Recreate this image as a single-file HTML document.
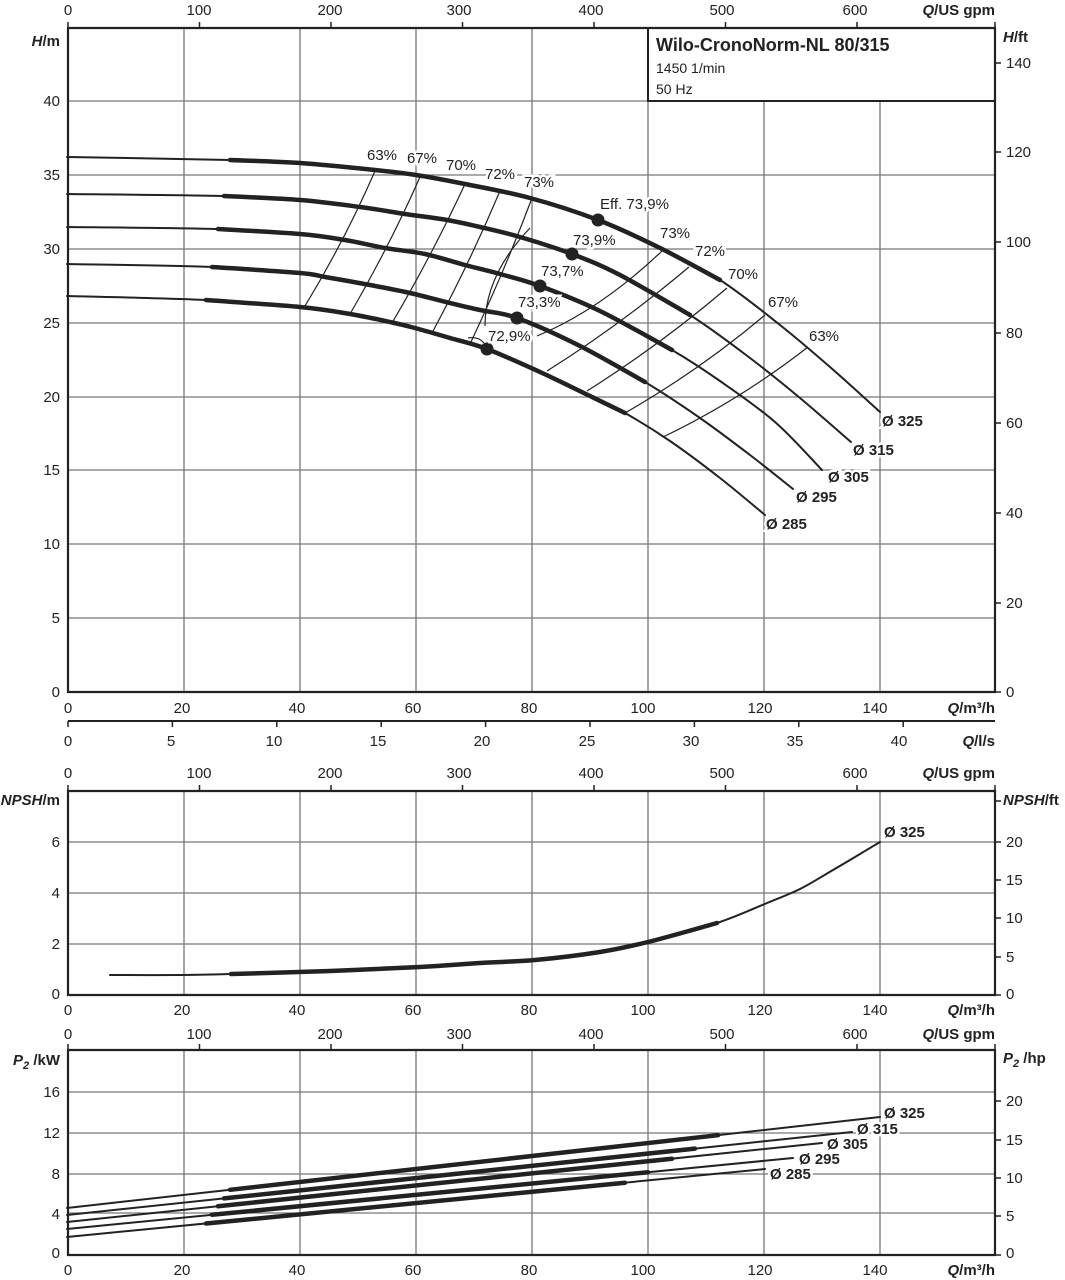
<!DOCTYPE html>
<html><head><meta charset="utf-8"><style>
html,body{margin:0;padding:0;background:#fff;}
svg{display:block;font-family:"Liberation Sans",sans-serif;}
.g{stroke:#777;stroke-width:1.3;fill:none}
.ax{stroke:#222;stroke-width:2.2;fill:none}
.t{font-size:15px;fill:#222}
.b{font-size:15px;fill:#222;font-weight:bold}
.c{stroke:#222;stroke-width:2;fill:none;stroke-linejoin:round;stroke-linecap:round}
.k{stroke:#222;stroke-width:4.5;fill:none;stroke-linejoin:round;stroke-linecap:round}
.i{stroke:#222;stroke-width:1.2;fill:none}
.lb{font-size:15px;fill:#222;paint-order:stroke;stroke:#fff;stroke-width:5px}
.lbb{font-size:15px;fill:#222;font-weight:bold;paint-order:stroke;stroke:#fff;stroke-width:5px}
</style></head><body>
<svg id="s" width="1065" height="1280" viewBox="0 0 1065 1280" xmlns="http://www.w3.org/2000/svg">
<g class="g">
<path d="M184 28V692M300 28V692M416 28V692M532 28V692M648 101V692M764 101V692M880 101V692"/>
<path d="M68 101H648M68 175H995M68 249H995M68 323H995M68 397H995M68 470H995M68 544H995M68 618H995"/>
</g>
<rect x="648" y="28" width="347" height="73" fill="#fff" stroke="#222" stroke-width="2"/>
<text x="656" y="51" style="font-size:18px;font-weight:bold;fill:#222">Wilo-CronoNorm-NL 80/315</text>
<text x="656" y="73" class="t" style="font-size:14px">1450 1/min</text>
<text x="656" y="94" class="t" style="font-size:14px">50 Hz</text>
<path class="ax" d="M68 28H995V692H68Z"/>
<g class="ax" style="stroke-width:1.5"><path d="M68 22V28M199.5 22V28M331 22V28M462.5 22V28M594 22V28M725.5 22V28M857 22V28M995 22V28"/></g>
<g class="t" text-anchor="middle"><text x="68" y="15">0</text><text x="199" y="15">100</text><text x="330" y="15">200</text><text x="459" y="15">300</text><text x="591" y="15">400</text><text x="722" y="15">500</text><text x="855" y="15">600</text></g>
<text x="995" y="15" text-anchor="end" class="b"><tspan font-style="italic">Q</tspan>/US gpm</text>
<text x="60" y="46" text-anchor="end" class="b"><tspan font-style="italic">H</tspan>/m</text>
<text x="1003" y="42" class="b"><tspan font-style="italic">H</tspan>/ft</text>
<g class="t" text-anchor="end"><text x="60" y="106">40</text><text x="60" y="180">35</text><text x="60" y="254">30</text><text x="60" y="328">25</text><text x="60" y="402">20</text><text x="60" y="475">15</text><text x="60" y="549">10</text><text x="60" y="623">5</text><text x="60" y="697">0</text></g>
<g class="ax" style="stroke-width:1.5"><path d="M995 63H1001M995 152H1001M995 242H1001M995 333H1001M995 423H1001M995 513H1001M995 603H1001M995 692H1001"/></g>
<g class="t"><text x="1006" y="68">140</text><text x="1006" y="157">120</text><text x="1006" y="247">100</text><text x="1006" y="338">80</text><text x="1006" y="428">60</text><text x="1006" y="518">40</text><text x="1006" y="608">20</text><text x="1006" y="697">0</text></g>
<g class="t" text-anchor="middle"><text x="68" y="713">0</text><text x="182" y="713">20</text><text x="297" y="713">40</text><text x="413" y="713">60</text><text x="529" y="713">80</text><text x="643" y="713">100</text><text x="760" y="713">120</text><text x="875" y="713">140</text></g>
<text x="995" y="713" text-anchor="end" class="b"><tspan font-style="italic">Q</tspan>/m³/h</text>
<path class="ax" d="M68 721H995" style="stroke-width:2"/>
<g class="ax" style="stroke-width:1.5"><path d="M68 721V727M172.4 721V727M276.8 721V727M381.2 721V727M485.6 721V727M590 721V727M694.4 721V727M798.8 721V727M903.2 721V727"/></g>
<g class="t" text-anchor="middle"><text x="68" y="746">0</text><text x="171" y="746">5</text><text x="274" y="746">10</text><text x="378" y="746">15</text><text x="482" y="746">20</text><text x="587" y="746">25</text><text x="691" y="746">30</text><text x="795" y="746">35</text><text x="899" y="746">40</text></g>
<text x="995" y="746" text-anchor="end" class="b"><tspan font-style="italic">Q</tspan>/l/s</text>

<g class="i">
<path d="M375 171 Q345 240 305 306"/>
<path d="M420 177 Q390 245 350 314"/>
<path d="M465 184 Q432 255 392 323"/>
<path d="M500 191 Q470 262 432 333"/>
<path d="M532 198 Q505 270 470 344"/>
<path d="M485 326 Q485 275 530 228"/>
<path d="M468 338 Q478 336 484 343"/>
<path d="M537 336 Q600 310 662 251"/>
<path d="M547 371 Q620 325 689 267"/>
<path d="M587 391 Q660 345 727 288"/>
<path d="M625 413 Q700 370 765 315"/>
<path d="M663 437 Q740 400 808 347"/>
</g>
<g class="c sm">
<polyline points="67,157 230,160 300,163 375,170 416,175 465,184 530,198 598,220 660,248 720,280 780,325 830,367 880,412"/>
<polyline points="67,194 224,196 300,200 360,207 405,214 447,220 480,227 520,237 572,254 620,275 690,315 750,358 800,398 851,442"/>
<polyline points="67,227 218,229 300,234 345,240 385,248 425,254 465,265 500,274 540,286 600,311 672,350 720,381 775,422 822,470"/>
<polyline points="67,264 212,267 300,273 325,277 370,285 410,293 450,303 480,310 517,318 580,346 645,382 700,418 750,455 793,489"/>
<polyline points="67,296 206,300 300,307 350,314 390,322 415,328 450,338 487,349 540,372 590,396 625,413 670,441 720,478 765,515"/>
</g>
<g class="k sm">
<polyline points="230,160 300,163 375,170 416,175 465,184 530,198 598,220 660,248 720,280"/>
<polyline points="224,196 300,200 360,207 405,214 447,220 480,227 520,237 572,254 620,275 690,315"/>
<polyline points="218,229 300,234 345,240 385,248 425,254 465,265 500,274 540,286 600,311 672,350"/>
<polyline points="212,267 300,273 325,277 370,285 410,293 450,303 480,310 517,318 580,346 645,382"/>
<polyline points="206,300 300,307 350,314 390,322 415,328 450,338 487,349 540,372 590,396 625,413"/>
</g>
<g fill="#222"><circle cx="598" cy="220" r="6.5"/><circle cx="572" cy="254" r="6.5"/><circle cx="540" cy="286" r="6.5"/><circle cx="517" cy="318" r="6.5"/><circle cx="487" cy="349" r="6.5"/></g>
<g class="lb">
<text x="367" y="160">63%</text><text x="407" y="163">67%</text><text x="446" y="170">70%</text><text x="485" y="179">72%</text><text x="524" y="187">73%</text>
<text x="600" y="209">Eff.  73,9%</text><text x="573" y="245">73,9%</text><text x="541" y="276">73,7%</text><text x="518" y="307">73,3%</text><text x="488" y="341">72,9%</text>
<text x="660" y="238">73%</text><text x="695" y="256">72%</text><text x="728" y="279">70%</text><text x="768" y="307">67%</text><text x="809" y="341">63%</text>
</g>
<g class="lbb">
<text x="882" y="426">Ø 325</text><text x="853" y="455">Ø 315</text><text x="828" y="482">Ø 305</text><text x="796" y="502">Ø 295</text><text x="766" y="529">Ø 285</text>
</g>

<g class="g">
<path d="M184 791V995M300 791V995M416 791V995M532 791V995M648 791V995M764 791V995M880 791V995"/>
<path d="M68 842H995M68 893H995M68 944H995"/>
</g>
<path class="ax" d="M68 791H995V995H68Z"/>
<g class="ax" style="stroke-width:1.5"><path d="M68 785V791M199.5 785V791M331 785V791M462.5 785V791M594 785V791M725.5 785V791M857 785V791M995 785V791"/></g>
<g class="t" text-anchor="middle"><text x="68" y="778">0</text><text x="199" y="778">100</text><text x="330" y="778">200</text><text x="459" y="778">300</text><text x="591" y="778">400</text><text x="722" y="778">500</text><text x="855" y="778">600</text></g>
<text x="995" y="778" text-anchor="end" class="b"><tspan font-style="italic">Q</tspan>/US gpm</text>
<text x="60" y="805" text-anchor="end" class="b"><tspan font-style="italic">NPSH</tspan>/m</text>
<text x="1003" y="805" class="b"><tspan font-style="italic">NPSH</tspan>/ft</text>
<g class="t" text-anchor="end"><text x="60" y="847">6</text><text x="60" y="898">4</text><text x="60" y="949">2</text><text x="60" y="999">0</text></g>
<g class="ax" style="stroke-width:1.5"><path d="M995 801H1001M995 842H1001M995 880H1001M995 918H1001M995 957H1001M995 995H1001"/></g>
<g class="t"><text x="1006" y="847">20</text><text x="1006" y="885">15</text><text x="1006" y="923">10</text><text x="1006" y="962">5</text><text x="1006" y="999">0</text></g>
<g class="t" text-anchor="middle"><text x="68" y="1015">0</text><text x="182" y="1015">20</text><text x="297" y="1015">40</text><text x="413" y="1015">60</text><text x="529" y="1015">80</text><text x="643" y="1015">100</text><text x="760" y="1015">120</text><text x="875" y="1015">140</text></g>
<text x="995" y="1015" text-anchor="end" class="b"><tspan font-style="italic">Q</tspan>/m³/h</text>
<g class="c sm"><polyline points="110,975 180,975 231,974 330,971 420,967 480,963 535,960 600,952 648,942 717,923 767,903 800,889 833,870 860,854 880,842"/></g>
<g class="k sm"><polyline points="231,974 330,971 420,967 480,963 535,960 600,952 648,942 717,923"/></g>
<text x="884" y="837" class="lbb">Ø 325</text>

<g class="g">
<path d="M184 1050V1255M300 1050V1255M416 1050V1255M532 1050V1255M648 1050V1255M764 1050V1255M880 1050V1255"/>
<path d="M68 1092H995M68 1133H995M68 1174H995M68 1213H995"/>
</g>
<path class="ax" d="M68 1050H995V1255H68Z"/>
<g class="ax" style="stroke-width:1.5"><path d="M68 1044V1050M199.5 1044V1050M331 1044V1050M462.5 1044V1050M594 1044V1050M725.5 1044V1050M857 1044V1050M995 1044V1050"/></g>
<g class="t" text-anchor="middle"><text x="68" y="1039">0</text><text x="199" y="1039">100</text><text x="330" y="1039">200</text><text x="459" y="1039">300</text><text x="591" y="1039">400</text><text x="722" y="1039">500</text><text x="855" y="1039">600</text></g>
<text x="995" y="1039" text-anchor="end" class="b"><tspan font-style="italic">Q</tspan>/US gpm</text>
<text x="60" y="1065" text-anchor="end" class="b"><tspan font-style="italic">P</tspan><tspan font-style="italic" font-size="11" dy="4">2</tspan><tspan dy="-4"> /kW</tspan></text>
<text x="1003" y="1063" class="b"><tspan font-style="italic">P</tspan><tspan font-style="italic" font-size="11" dy="4">2</tspan><tspan dy="-4"> /hp</tspan></text>
<g class="t" text-anchor="end"><text x="60" y="1097">16</text><text x="60" y="1138">12</text><text x="60" y="1179">8</text><text x="60" y="1219">4</text><text x="60" y="1258">0</text></g>
<g class="ax" style="stroke-width:1.5"><path d="M995 1101H1001M995 1140H1001M995 1178H1001M995 1216H1001M995 1255H1001"/></g>
<g class="t"><text x="1006" y="1106">20</text><text x="1006" y="1145">15</text><text x="1006" y="1183">10</text><text x="1006" y="1221">5</text><text x="1006" y="1258">0</text></g>
<g class="t" text-anchor="middle"><text x="68" y="1275">0</text><text x="182" y="1275">20</text><text x="297" y="1275">40</text><text x="413" y="1275">60</text><text x="529" y="1275">80</text><text x="643" y="1275">100</text><text x="760" y="1275">120</text><text x="875" y="1275">140</text></g>
<text x="995" y="1275" text-anchor="end" class="b"><tspan font-style="italic">Q</tspan>/m³/h</text>
<g class="c">
<path d="M67 1208L880 1117"/>
<path d="M67 1215L852 1132"/>
<path d="M67 1222L822 1143"/>
<path d="M67 1229L793 1158"/>
<path d="M67 1237L765 1169"/>
</g>
<g class="k">
<path d="M230 1189.8L718 1135.2"/>
<path d="M224 1198.4L695 1148.6"/>
<path d="M218 1206.2L672 1158.7"/>
<path d="M212 1214.8L648 1172.2"/>
<path d="M206 1223.5L625 1182.7"/>
</g>
<g class="lbb">
<text x="884" y="1118">Ø 325</text><text x="857" y="1134">Ø 315</text><text x="827" y="1149">Ø 305</text><text x="799" y="1164">Ø 295</text><text x="770" y="1179">Ø 285</text>
</g>
</svg>
<script>
(function(){
var NS="http://www.w3.org/2000/svg";
var pls=document.querySelectorAll("g.sm polyline");
for(var n=0;n<pls.length;n++){
 var pl=pls[n];
 var p=pl.getAttribute("points").trim().split(/\s+/).map(function(s){var a=s.split(",");return [+a[0],+a[1]];});
 var d="M"+p[0][0]+" "+p[0][1];
 for(var i=0;i<p.length-1;i++){
  var p0=p[i>0?i-1:i],p1=p[i],p2=p[i+1],p3=p[i+2<p.length?i+2:i+1];
  var c1x=p1[0]+(p2[0]-p0[0])/6,c1y=p1[1]+(p2[1]-p0[1])/6;
  var c2x=p2[0]-(p3[0]-p1[0])/6,c2y=p2[1]-(p3[1]-p1[1])/6;
  d+="C"+c1x.toFixed(1)+" "+c1y.toFixed(1)+" "+c2x.toFixed(1)+" "+c2y.toFixed(1)+" "+p2[0]+" "+p2[1];
 }
 var path=document.createElementNS(NS,"path");
 path.setAttribute("d",d);
 pl.parentNode.replaceChild(path,pl);
}
})();
</script>
</body></html>
